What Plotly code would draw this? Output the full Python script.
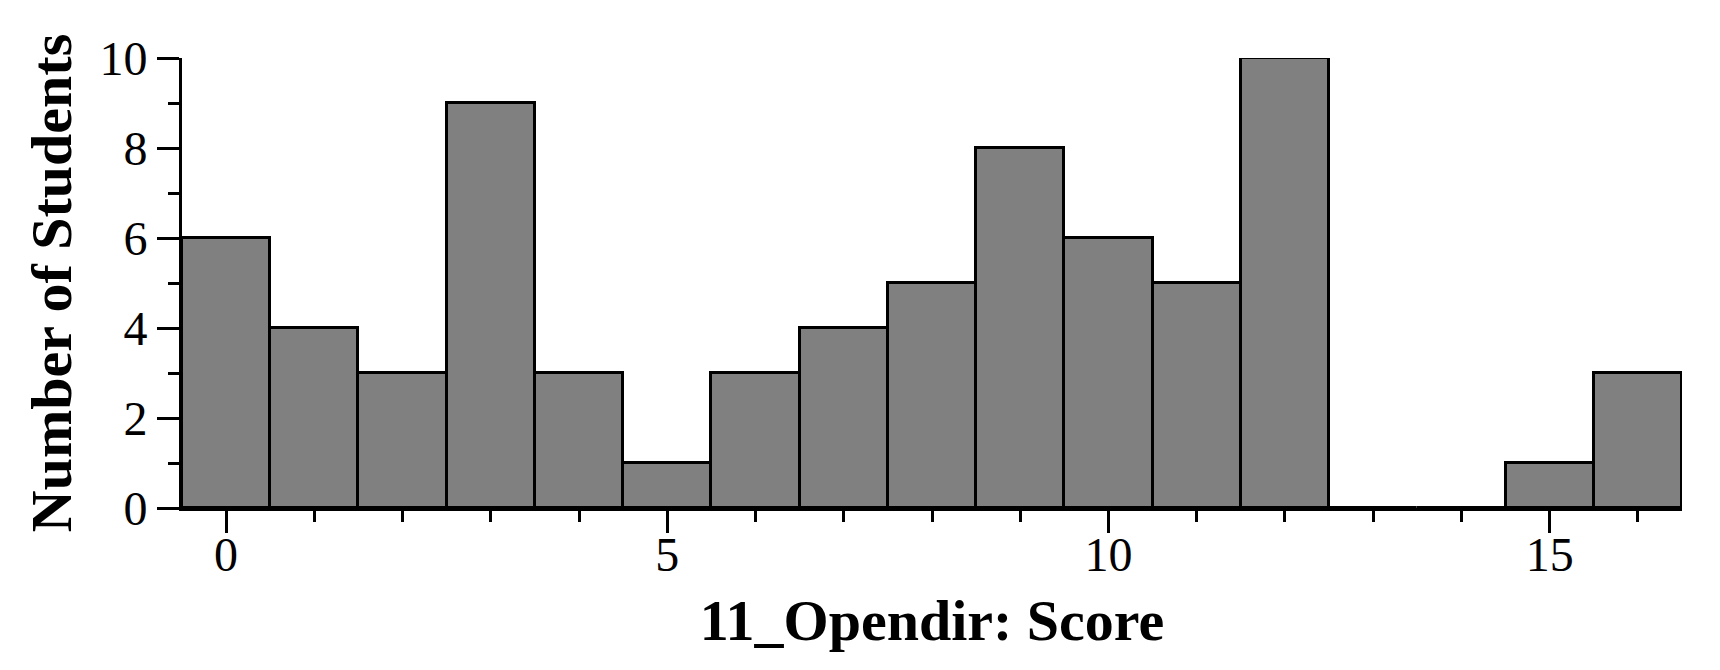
import plotly.graph_objects as go

scores = list(range(17))
students = [6, 4, 3, 9, 3, 1, 3, 4, 5, 8, 6, 5, 10, 0, 0, 1, 3]

x_title = "11_Opendir: Score"
y_title = "Number of Students"

fig = go.Figure(go.Bar(
    x=scores,
    y=students,
    width=1,
    marker=dict(color="#808080", line=dict(color="black", width=3)),
))

axis_font = dict(family="Liberation Serif", size=48, color="black")
title_font = dict(family="Liberation Serif", size=58, color="black")

fig.update_layout(
    width=1720,
    height=670,
    margin=dict(l=182, r=38, t=58, b=162),
    plot_bgcolor="white",
    paper_bgcolor="white",
    showlegend=False,
    bargap=0,
    xaxis=dict(
        range=[-0.5, 16.5],
        tickvals=[0, 5, 10, 15],
        ticks="outside", ticklen=22, tickwidth=3, tickcolor="black",
        minor=dict(dtick=1, tick0=0, ticks="outside", ticklen=11, tickwidth=3, tickcolor="black"),
        showline=True, linecolor="black", linewidth=3,
        showgrid=False, zeroline=False,
        tickfont=axis_font,
        ticklabelstandoff=-20,
        title=dict(text="<b>" + x_title + "</b>", font=title_font, standoff=20),
    ),
    yaxis=dict(
        range=[0, 10],
        tickvals=[0, 2, 4, 6, 8, 10],
        ticks="outside", ticklen=22, tickwidth=3, tickcolor="black",
        minor=dict(dtick=1, tick0=0, ticks="outside", ticklen=11, tickwidth=3, tickcolor="black"),
        showline=True, linecolor="black", linewidth=3,
        showgrid=False, zeroline=False,
        tickfont=axis_font,
        title=dict(text="<b>" + y_title + "</b>", font=title_font, standoff=10),
    ),
)

# page body has a default 8px margin; drop it so the figure sits at the corner
fig.write_html("out.html", config={"displayModeBar": False},
               post_script="document.body.style.margin='0';")
